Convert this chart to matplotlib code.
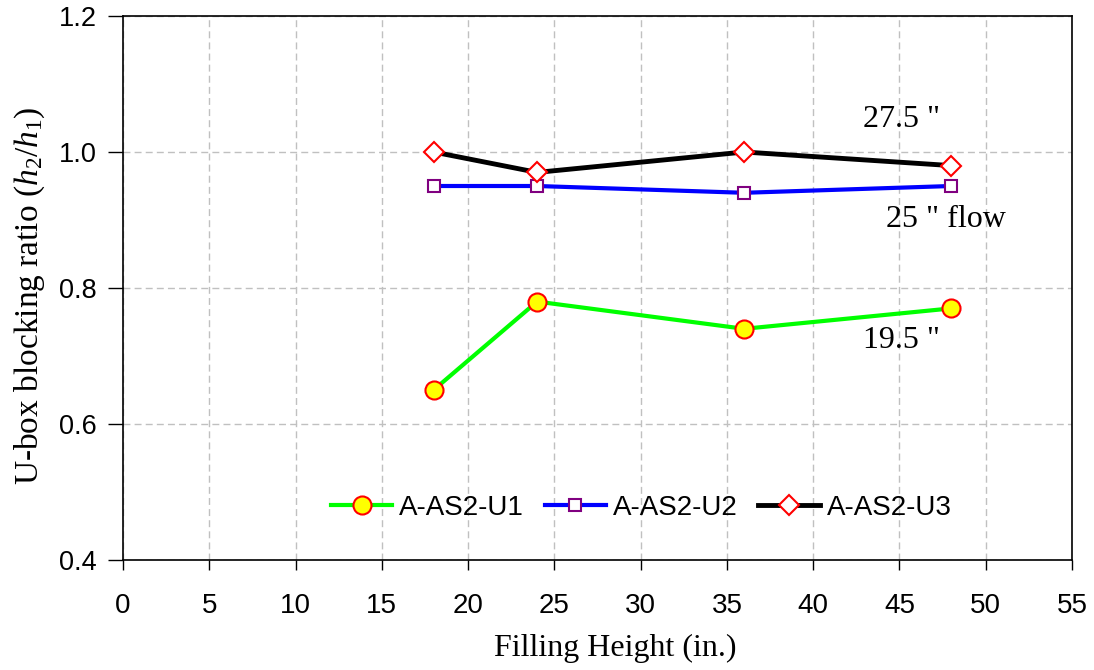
import matplotlib
matplotlib.use("Agg")
import matplotlib.pyplot as plt

plt.rcParams['mathtext.fontset'] = 'custom'
plt.rcParams['mathtext.rm'] = 'Liberation Serif'
plt.rcParams['mathtext.it'] = 'Liberation Serif:italic'

filling_height = [18, 24, 36, 48]
u1 = [0.65, 0.78, 0.74, 0.77]
u2 = [0.95, 0.95, 0.94, 0.95]
u3 = [1.00, 0.97, 1.00, 0.98]
series_names = ['A-AS2-U1', 'A-AS2-U2', 'A-AS2-U3']
x_ticks = list(range(0, 56, 5))
y_ticks = [0.4, 0.6, 0.8, 1.0, 1.2]
annotations = [('27.5 "', 45.1, 1.037), ('25 " flow', 47.7, 0.890), ('19.5 "', 45.1, 0.712)]

fig = plt.figure(figsize=(10.94, 6.70), dpi=100)
ax = fig.add_axes([123/1094, 1-560/670, (1072-123)/1094, (560-16)/670])

ax.plot(filling_height, u1, color='#00ff00', lw=3, marker='o', ms=13,
        mfc='#ffff00', mec='#ff0000', mew=1.5, label=series_names[0], zorder=3)
ax.plot(filling_height, u2, color='#0000ff', lw=3, marker='s', ms=8,
        mfc='white', mec='#800080', mew=1.5, label=series_names[1], zorder=3)
ax.plot(filling_height, u3, color='black', lw=3.5, marker='D', ms=10,
        mfc='white', mec='#ff0000', mew=1.5, label=series_names[2], zorder=3)

ax.set_xlim(0, 55)
ax.set_ylim(0.4, 1.2)
ax.set_xticks(x_ticks)
ax.set_yticks(y_ticks)
ax.set_yticklabels([f'{v:.1f}' for v in y_ticks])
ax.grid(True, color='#c0c0c0', ls=(0, (5, 3)), lw=1)
ax.set_axisbelow(True)
for s in ax.spines.values():
    s.set_linewidth(1.2)
ax.tick_params(axis='x', direction='out', length=7, width=1, labelsize=20, pad=17)
ax.tick_params(axis='y', direction='out', length=11, width=1, labelsize=19.5, pad=8)
for lab in ax.get_xticklabels() + ax.get_yticklabels():
    lab.set_fontfamily('Liberation Sans')

fig.text(615/1094, 1-648/670, 'Filling Height (in.)', fontsize=23,
         family='Liberation Serif', ha='center', va='center')
fig.text(30/1094, 1-296/670, r'U-box blocking ratio ($h_2/h_1$)', fontsize=24,
         family='Liberation Serif', ha='center', va='center', rotation=90)

for txt, x, y in annotations:
    ax.text(x, y, txt, fontsize=23, family='Liberation Serif', ha='center', va='baseline')

leg = ax.legend(loc='center', bbox_to_anchor=(0.546, 1-(508-16)/544), ncol=3, frameon=False,
                prop={'family': 'Liberation Sans', 'size': 20}, handlelength=2.2,
                handletextpad=0.25, columnspacing=0.75)

fig.savefig('out.png', dpi=100)
